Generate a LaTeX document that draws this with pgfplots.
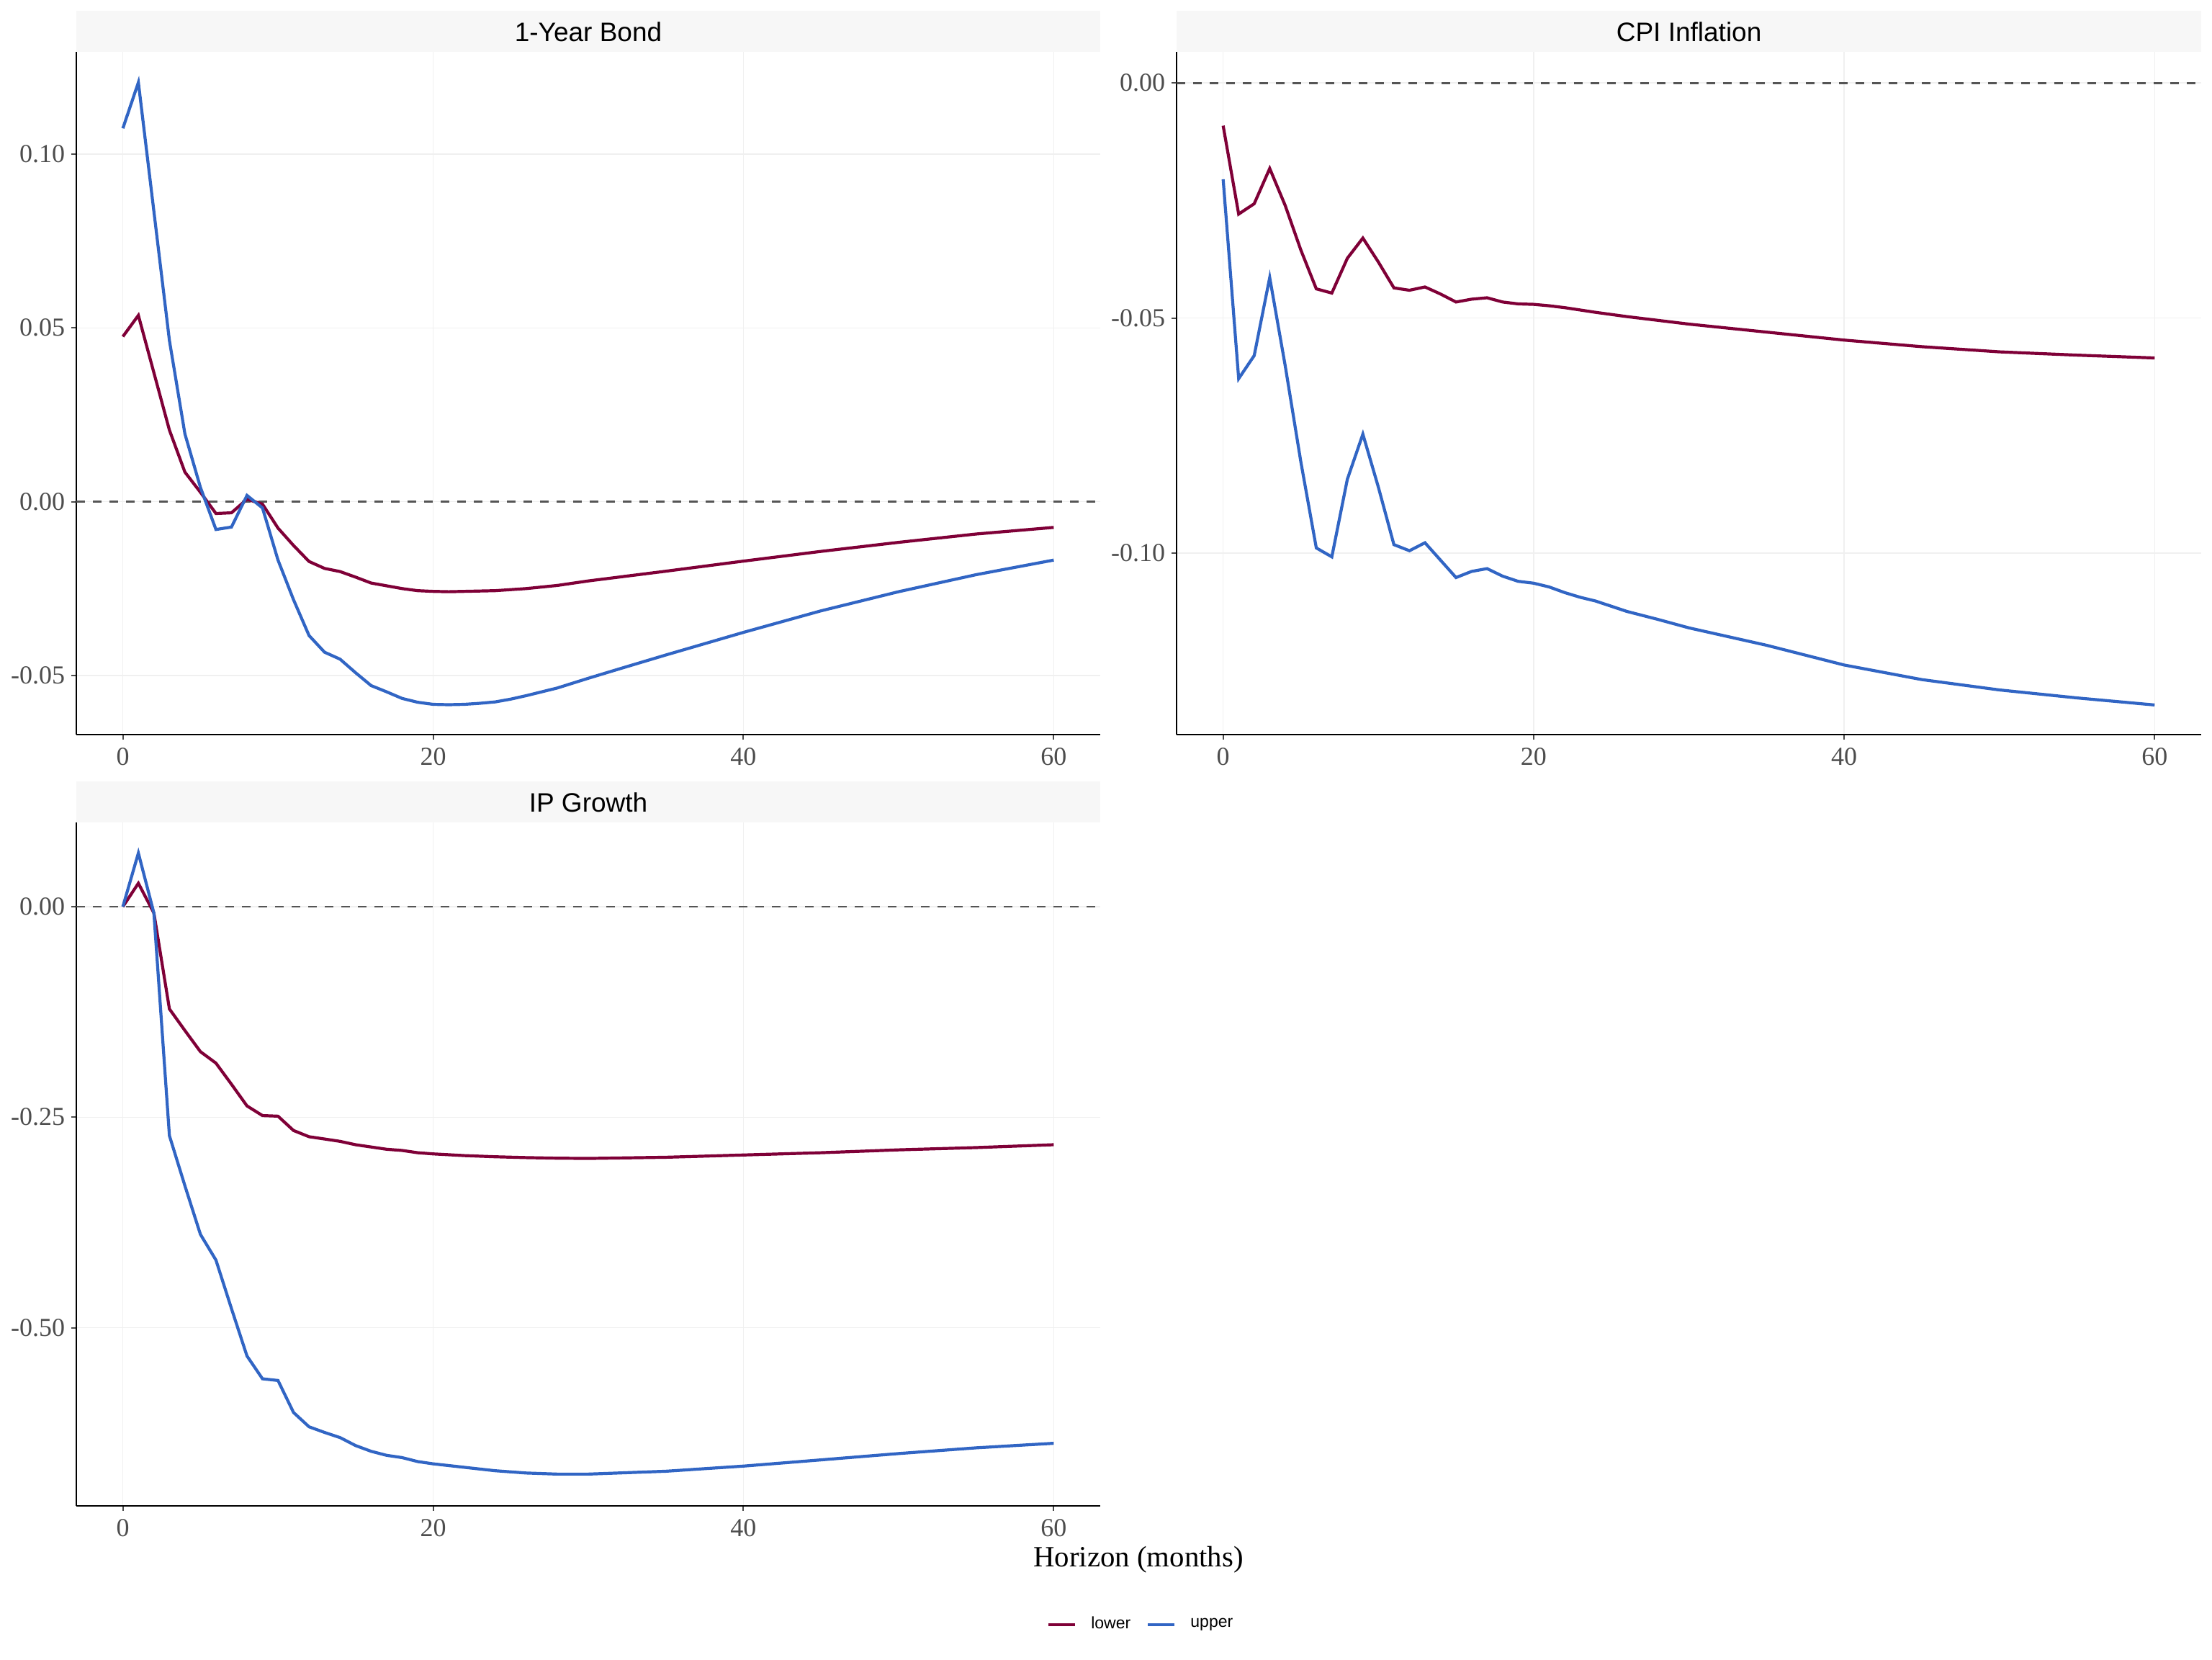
\documentclass[border=0pt]{standalone}
\usepackage{pgfplots}
\pgfplotsset{compat=1.18}
\usepackage{fontspec}
\setmainfont{Liberation Serif}
\newfontfamily\sansf{Liberation Sans}
\definecolor{lowc}{RGB}{127,0,55}
\definecolor{upc}{RGB}{49,101,196}
\definecolor{tickgray}{RGB}{77,77,77}
\definecolor{stripc}{RGB}{247,247,247}
\definecolor{gridc}{RGB}{240,240,240}
\definecolor{zeroc}{RGB}{85,85,85}
\pgfplotsset{
  myaxis/.style={
    scale only axis,
    xmin=-3, xmax=63,
    axis x line*=bottom, axis y line*=left,
    axis line style={-, black, line width=0.5pt},
    every outer x axis line/.append style={-},
    every outer y axis line/.append style={-},
    xtick={0,20,40,60}, xticklabels={0,20,40,60},
    tick align=outside, major tick length=1.75pt,
    tick style={color=black!70, line width=0.5pt},
    grid=major, major grid style={color=gridc, line width=0.35pt},
    ticklabel style={font=\fontsize{9}{9}\selectfont, color=tickgray},
    xticklabel style={inner sep=0pt, yshift=-2.75pt},
    yticklabel style={inner sep=0pt, xshift=-2pt},
  },
  lowp/.style={color=lowc, line width=1.05pt},
  upp/.style={color=upc, line width=1.05pt},
  zerop/.style={forget plot, color=zeroc, line width=0.7pt, dash pattern=on 3pt off 2.75pt},
}
\begin{document}
\begin{tikzpicture}
\useasboundingbox (0,0) rectangle (768pt,-576pt);
% strips
\fill[stripc] (26.5pt,-3.75pt) rectangle (382pt,-18pt);
\fill[stripc] (408.5pt,-3.75pt) rectangle (764.25pt,-18pt);
\fill[stripc] (26.5pt,-271.35pt) rectangle (382pt,-285.6pt);
\node[anchor=base, inner sep=0pt, font=\sansf\fontsize{9.25}{9.25}\selectfont] at (204.25pt,-14.3pt) {1-Year Bond};
\node[anchor=base, inner sep=0pt, font=\sansf\fontsize{9.25}{9.25}\selectfont] at (586.4pt,-14.3pt) {CPI Inflation};
\node[anchor=base, inner sep=0pt, font=\sansf\fontsize{9.25}{9.25}\selectfont] at (204.25pt,-281.9pt) {IP Growth};

% Panel 1: 1-Year Bond
\begin{axis}[myaxis, at={(26.5pt,-18pt)}, anchor=north west,
  width=355.5pt, height=237pt,
  ymin=-0.0670, ymax=0.1294,
  ytick={-0.05,0,0.05,0.10}, yticklabels={-0.05,0.00,0.05,0.10}]
\addplot[zerop] coordinates {(-3,0) (63,0)};
\addplot[lowp] coordinates {
(0,0.0475)(1,0.0536)(2,0.0371)(3,0.0206)(4,0.0085)(5,0.0027)(6,-0.0034)(7,-0.0032)(8,0.0007)(9,-0.0007)(10,-0.0076)(11,-0.0126)(12,-0.0172)(13,-0.0192)(14,-0.0201)(15,-0.0217)(16,-0.0234)(17,-0.0242)(18,-0.0250)(19,-0.0256)(20,-0.0258)(21,-0.0259)(22,-0.0258)(24,-0.0256)(26,-0.0250)(28,-0.0241)(30,-0.0228)(35,-0.0200)(40,-0.0171)(45,-0.0143)(50,-0.0117)(55,-0.0093)(60,-0.0074)};
\addplot[upp] coordinates {
(0,0.1074)(1,0.1206)(2,0.0835)(3,0.0464)(4,0.0195)(5,0.0041)(6,-0.0080)(7,-0.0073)(8,0.0018)(9,-0.0018)(10,-0.0168)(11,-0.0282)(12,-0.0385)(13,-0.0433)(14,-0.0453)(15,-0.0492)(16,-0.0529)(17,-0.0547)(18,-0.0566)(19,-0.0577)(20,-0.0583)(21,-0.0584)(22,-0.0583)(23,-0.0580)(24,-0.0576)(25,-0.0568)(26,-0.0558)(27,-0.0547)(28,-0.0536)(30,-0.0508)(32,-0.0481)(35,-0.0441)(40,-0.0376)(45,-0.0314)(50,-0.0259)(55,-0.0210)(60,-0.0168)};
\end{axis}

% Panel 2: CPI Inflation
\begin{axis}[myaxis, at={(408.5pt,-18pt)}, anchor=north west,
  width=355.75pt, height=237pt,
  ymin=-0.1386, ymax=0.0066,
  ytick={-0.10,-0.05,0}, yticklabels={-0.10,-0.05,0.00}]
\addplot[zerop] coordinates {(-3,0) (63,0)};
\addplot[lowp] coordinates {
(0,-0.0091)(1,-0.0279)(2,-0.0257)(3,-0.0182)(4,-0.0261)(5,-0.0355)(6,-0.0438)(7,-0.0447)(8,-0.0373)(9,-0.0330)(10,-0.0381)(11,-0.0436)(12,-0.0441)(13,-0.0434)(14,-0.0449)(15,-0.0466)(16,-0.0460)(17,-0.0457)(18,-0.0466)(19,-0.0470)(20,-0.0471)(21,-0.0474)(22,-0.0478)(24,-0.0488)(26,-0.0497)(28,-0.0505)(30,-0.0513)(35,-0.0530)(40,-0.0547)(45,-0.0561)(50,-0.0572)(55,-0.0579)(60,-0.0585)};
\addplot[upp] coordinates {
(0,-0.0205)(1,-0.0629)(2,-0.0580)(3,-0.0414)(4,-0.0602)(5,-0.0805)(6,-0.0989)(7,-0.1008)(8,-0.0843)(9,-0.0747)(10,-0.0860)(11,-0.0982)(12,-0.0995)(13,-0.0978)(14,-0.1015)(15,-0.1052)(16,-0.1039)(17,-0.1033)(18,-0.1049)(19,-0.1060)(20,-0.1064)(21,-0.1072)(22,-0.1084)(23,-0.1094)(24,-0.1102)(26,-0.1124)(28,-0.1141)(30,-0.1159)(35,-0.1196)(40,-0.1238)(45,-0.1269)(50,-0.1291)(55,-0.1308)(60,-0.1323)};
\end{axis}

% Panel 3: IP Growth
\begin{axis}[myaxis, at={(26.5pt,-285.6pt)}, anchor=north west,
  width=355.5pt, height=237.1pt,
  ymin=-0.7115, ymax=0.0997,
  ytick={-0.50,-0.25,0}, yticklabels={-0.50,-0.25,0.00},
  legend columns=2,
  legend style={draw=none, fill=none, inner sep=0pt, outer sep=0pt,
    at={(0.948,-0.1742)}, anchor=west,
    font=\sansf\fontsize{5.75}{5.75}\selectfont,
    /tikz/every odd column/.append style={column sep=3pt},
    /tikz/every even column/.append style={column sep=3.5pt}},
  legend image code/.code={\draw[#1] (0pt,0pt) -- (9.25pt,0pt);}]
\addplot[zerop] coordinates {(-3,0) (63,0)};
\addplot[lowp] coordinates {
(0,0)(1,0.0278)(2,-0.0075)(3,-0.1214)(4,-0.1471)(5,-0.1722)(6,-0.1858)(7,-0.2109)(8,-0.2366)(9,-0.2481)(10,-0.2488)(11,-0.2658)(12,-0.2732)(13,-0.2759)(14,-0.2787)(15,-0.2827)(16,-0.2854)(17,-0.2881)(18,-0.2895)(19,-0.2922)(20,-0.2936)(22,-0.2956)(24,-0.2970)(26,-0.2980)(28,-0.2987)(30,-0.2990)(35,-0.2976)(40,-0.2949)(45,-0.2922)(50,-0.2888)(55,-0.2861)(60,-0.2827)};
\addlegendentry{lower}
\addplot[upp] coordinates {
(0,0)(1,0.0637)(2,-0.0075)(3,-0.2719)(4,-0.3315)(5,-0.3892)(6,-0.4197)(7,-0.4773)(8,-0.5336)(9,-0.5607)(10,-0.5627)(11,-0.6007)(12,-0.6177)(13,-0.6244)(14,-0.6305)(15,-0.6400)(16,-0.6468)(17,-0.6516)(18,-0.6543)(19,-0.6590)(20,-0.6617)(22,-0.6658)(24,-0.6699)(26,-0.6726)(28,-0.6739)(30,-0.6739)(35,-0.6705)(40,-0.6644)(45,-0.6570)(50,-0.6495)(55,-0.6427)(60,-0.6373)};
\addlegendentry{upper}
\end{axis}

\node[anchor=base, inner sep=0pt, font=\fontsize{10.2}{10.2}\selectfont] at (395.25pt,-543.75pt) {Horizon (months)};
\end{tikzpicture}
\end{document}
